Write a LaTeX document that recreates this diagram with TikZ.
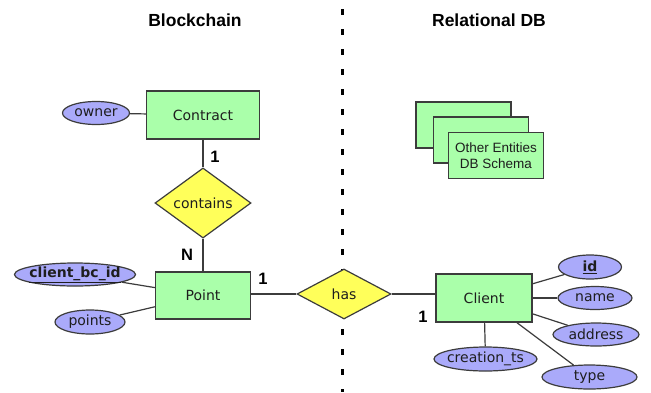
\documentclass[tikz,border=0pt]{standalone}
\usepackage{fontspec}
\setmainfont{DejaVu Sans}
\newfontfamily\titlefont{Liberation Sans}
\usetikzlibrary{shapes.geometric}
\definecolor{entgreen}{RGB}{170,255,170}
\definecolor{attblue}{RGB}{170,170,250}
\definecolor{relyellow}{RGB}{255,255,90}
\definecolor{edge}{RGB}{60,60,60}
\definecolor{txt}{RGB}{30,30,30}
\tikzset{
  entity/.style={draw=edge, line width=1.3pt, fill=entgreen, rectangle, inner sep=0pt, text=txt, font=\fontsize{14}{16}\selectfont},
  attr/.style={draw=edge, line width=1.2pt, fill=attblue, ellipse, inner xsep=-7pt, inner ysep=-3pt, text=txt, font=\fontsize{14}{16}\selectfont},
  rel/.style={draw=edge, line width=1.2pt, fill=relyellow, diamond, inner sep=0pt, text=txt, font=\fontsize{14}{16}\selectfont},
  conn/.style={draw=edge, line width=1.2pt},
  card/.style={font=\titlefont\bfseries\fontsize{16.5}{18}\selectfont},
  ttl/.style={font=\titlefont\bfseries\fontsize{17.5}{20}\selectfont},
  stackbox/.style={draw=edge, line width=1.3pt, fill=entgreen, rectangle, inner sep=0pt, minimum width=95pt, minimum height=46pt, align=center, text=txt, font=\titlefont\fontsize{13.5}{16}\selectfont},
}
\begin{document}
\begin{tikzpicture}[x=1pt,y=-1pt]
\useasboundingbox (0,0) rectangle (651,392);
\fill[white] (0,0) rectangle (651,392);
% titles
\node[ttl] (tbc) at (195,20) {Blockchain};
\node[ttl] (tdb) at (489,20) {Relational DB};
% divider
\coordinate (dtop) at (342,9);
\coordinate (dbot) at (342,392);
\draw[line width=3pt, dash pattern=on 6pt off 14pt] (dtop) -- (dbot);
% entities
\node[entity, minimum width=113pt, minimum height=48pt] (contract) at (203,115) {Contract};
\node[entity, minimum width=95pt, minimum height=47pt] (point) at (203,295.5) {Point};
\node[entity, minimum width=96pt, minimum height=48pt] (client) at (484,298) {Client};
% relationships
\node[rel, minimum width=96pt, minimum height=48pt] (contains) at (203,203) {contains};
\node[rel, minimum width=94pt, minimum height=50pt] (has) at (344,294) {has};
% attributes
\node[attr, minimum width=67pt, minimum height=23pt] (owner) at (96,113) {owner};
\node[attr, minimum width=121pt, minimum height=23pt] (cbid) at (75,274.5) {\bfseries\underline{client\_bc\_id}};
\node[attr, minimum width=70pt, minimum height=24pt] (points) at (90,322) {points};
\node[attr, minimum width=63pt, minimum height=24pt] (id) at (590,267) {\bfseries\underline{id}};
\node[attr, minimum width=74pt, minimum height=23pt] (name) at (595,298) {name};
\node[attr, minimum width=86pt, minimum height=23pt] (address) at (596,334.5) {address};
\node[attr, minimum width=103pt, minimum height=24pt] (cts) at (485.5,359) {creation\_ts};
\node[attr, minimum width=95pt, minimum height=24pt] (type) at (589.5,377) {type};
% stacked other entities
\node[stackbox] (s1) at (463.5,125) {};
\node[stackbox] (s2) at (481,140) {};
\node[stackbox] (s3) at (496,155.5) {Other Entities\\DB Schema};
% connectors
\draw[conn] (owner) -- (contract);
\draw[conn] (contract) -- (contains);
\draw[conn] (contains) -- (point);
\draw[conn] (point.east |- has.west) -- (has.west);
\draw[conn] (has.east) -- (client.west |- has.east);
\draw[conn] (cbid) -- (point);
\draw[conn] (points) -- (point);
\draw[conn] (id) -- (client);
\draw[conn] (name) -- (client);
\draw[conn] (address) -- (client);
\draw[conn] (cts) -- (client);
\draw[conn] (type) -- (client);
% cardinalities
\node[card] (c1) at (215,157) {1};
\node[card] (cn) at (187,255) {N};
\node[card] (c2) at (263,279) {1};
\node[card] (c3) at (423,317) {1};
\end{tikzpicture}
\end{document}
